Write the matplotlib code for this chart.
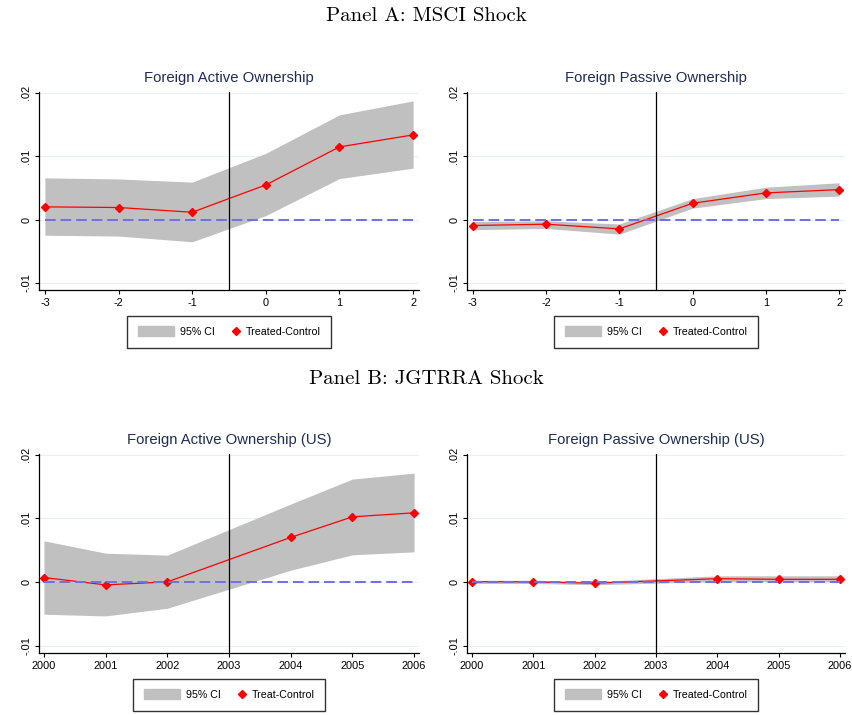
import numpy as np
import matplotlib
matplotlib.use("Agg")
import matplotlib.pyplot as plt
from matplotlib.lines import Line2D
from matplotlib.patches import Patch, Rectangle
from matplotlib.legend_handler import HandlerLine2D, HandlerPatch

plt.rcParams['font.family'] = ['Liberation Sans', 'DejaVu Sans']

# Panel A: MSCI shock, event time
event_t = [-3, -2, -1, 0, 1, 2]
act_msci = [0.0020, 0.0019, 0.00115, 0.00546, 0.01145, 0.01334]
act_msci_hi = [0.00657, 0.0064, 0.0059, 0.01044, 0.0165, 0.0187]
act_msci_lo = [-0.00247, -0.0026, -0.0035, 0.00063, 0.00646, 0.0081]

pas_msci = [-0.00094, -0.00073, -0.00147, 0.00257, 0.0042, 0.00472]
pas_msci_hi = [-0.0003, -0.0002, -0.0007, 0.0033, 0.0051, 0.0058]
pas_msci_lo = [-0.0016, -0.0014, -0.0023, 0.0018, 0.0033, 0.0037]

# Panel B: JGTRRA shock, years (no 2003 estimate)
years = [2000, 2001, 2002, 2004, 2005, 2006]
year_ticks = [2000, 2001, 2002, 2003, 2004, 2005, 2006]
act_us = [0.00073, -0.00042, 0.00005, 0.00702, 0.01025, 0.01088]
act_us_hi = [0.00649, 0.00455, 0.00424, 0.01225, 0.01617, 0.0171]
act_us_lo = [-0.00502, -0.00529, -0.00408, 0.00188, 0.00429, 0.00476]

pas_us = [0.0001, 0.00005, -0.00015, 0.00055, 0.00045, 0.00045]
pas_us_hi = [0.0003, 0.0003, 0.0001, 0.0010, 0.0010, 0.0010]
pas_us_lo = [-0.0002, -0.0002, -0.0004, 0.0001, 0.0001, 0.0001]

y_ticks = [-0.01, 0, 0.01, 0.02]
y_labels = ['-.01', '0', '.01', '.02']

BAND = '#c0c0c0'
TITLE_C = '#1f2d55'
ZERO_C = '#6f6fe6'
FS = 7.7
TICK_FS = 7.9
MS = 4.4


class MarkerRight(HandlerLine2D):
    # put the diamond at the right end of the handle box
    def get_xdata(self, legend, xdescent, ydescent, width, height, fontsize):
        x = width - xdescent - 0.3 * fontsize
        return np.array([x, x]), np.array([x])


def patch_box(legend, orig_handle, xdescent, ydescent, width, height, fontsize):
    h = 0.95 * fontsize
    return Rectangle((-xdescent, -ydescent + (height - h) / 2), width, h)


W, H = 853, 715
fig = plt.figure(figsize=(W / 100, H / 100), dpi=100)


def make_ax(left, right, bottom, top):
    return fig.add_axes([left / W, 1 - bottom / H, (right - left) / W, (bottom - top) / H])


def panel(ax, x, y, lo, hi, xlim, xticks, xlabels, vline, title, label):
    ax.fill_between(x, lo, hi, color=BAND, lw=0, zorder=1)
    ax.plot(x, y, color='red', lw=0.9, marker='D', ms=MS, zorder=3)
    ax.plot([x[0], x[-1]], [0, 0], color=ZERO_C, lw=1.4,
            linestyle=(0, (5.5, 2.5)), zorder=4)
    ax.plot([vline, vline], [-0.0111, 0.0201], color='black', lw=0.9, zorder=5)
    ax.set_xlim(*xlim)
    ax.set_ylim(-0.0111, 0.0201)
    ax.set_yticks(y_ticks)
    ax.set_yticklabels(y_labels, rotation=90, va='center', fontsize=TICK_FS)
    ax.set_xticks(xticks)
    ax.set_xticklabels(xlabels, fontsize=TICK_FS)
    ax.grid(axis='y', color='#e8f0f2', lw=0.8, zorder=0)
    ax.set_axisbelow(True)
    for s in ['top', 'right']:
        ax.spines[s].set_visible(False)
    for s in ['left', 'bottom']:
        ax.spines[s].set_linewidth(0.9)
    ax.tick_params(length=3, width=0.8, pad=2.5, colors='black')
    ax.set_title(title, fontsize=10.7, color=TITLE_C, pad=7)
    handles = [Patch(color=BAND),
               Line2D([], [], color='red', marker='D', ms=MS, linestyle='none')]
    leg = ax.legend(handles, ['95% CI', label], ncol=2, loc='upper center',
                    bbox_to_anchor=(0.5, -0.105), fontsize=FS, frameon=True,
                    fancybox=False, edgecolor='black', borderpad=1.0,
                    handlelength=3.4, handletextpad=0.55, columnspacing=-1.1,
                    handler_map={Line2D: MarkerRight(),
                                 Patch: HandlerPatch(patch_func=patch_box)})
    leg.get_frame().set_linewidth(1.0)


ev_lim = (-3.08, 2.08)
yr_lim = (1999.92, 2006.08)
ev_lab = [str(t) for t in event_t]
yr_lab = [str(t) for t in year_ticks]

ax1 = make_ax(39, 419, 290, 92)
panel(ax1, event_t, act_msci, act_msci_lo, act_msci_hi, ev_lim, event_t, ev_lab,
      -0.5, 'Foreign Active Ownership', 'Treated-Control')
ax2 = make_ax(467, 845, 290, 92)
panel(ax2, event_t, pas_msci, pas_msci_lo, pas_msci_hi, ev_lim, event_t, ev_lab,
      -0.5, 'Foreign Passive Ownership', 'Treated-Control')
ax3 = make_ax(39, 419, 653, 454)
panel(ax3, years, act_us, act_us_lo, act_us_hi, yr_lim, year_ticks, yr_lab,
      2003, 'Foreign Active Ownership (US)', 'Treat-Control')
ax4 = make_ax(467, 845, 653, 454)
panel(ax4, years, pas_us, pas_us_lo, pas_us_hi, yr_lim, year_ticks, yr_lab,
      2003, 'Foreign Passive Ownership (US)', 'Treated-Control')

fig.text(0.5, 1 - 16 / H, 'Panel A: MSCI Shock', ha='center', va='center',
         fontsize=15, family='cmr10')
fig.text(0.5, 1 - 379 / H, 'Panel B: JGTRRA Shock', ha='center', va='center',
         fontsize=15, family='cmr10')

fig.savefig('out.png', dpi=100)
